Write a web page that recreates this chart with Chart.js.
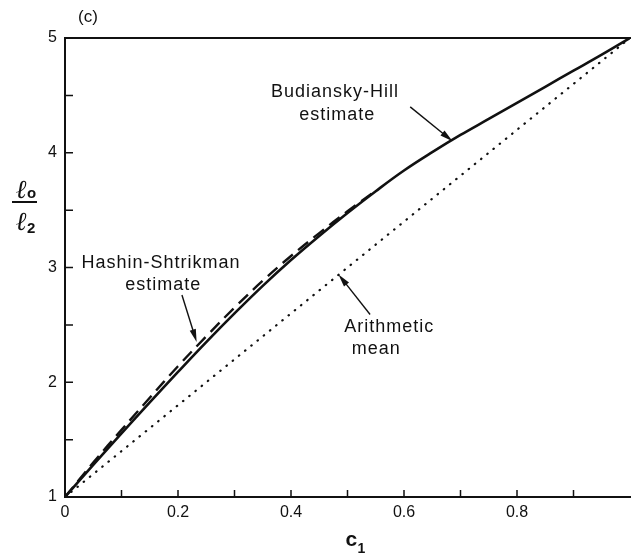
<!DOCTYPE html>
<html>
<head>
<meta charset="utf-8">
<script src="https://cdn.jsdelivr.net/npm/chart.js@4.4.1/dist/chart.umd.min.js"></script>
<style>
  html, body { margin: 0; padding: 0; background: #fff; }
  #wrap { width: 636px; height: 559px; }
</style>
</head>
<body>
<div id="wrap"><canvas id="chart"></canvas></div>
<script>
// ---- data ----
const c1Grid = [0, 0.05, 0.1, 0.15, 0.2, 0.25, 0.3, 0.35, 0.4, 0.45, 0.5, 0.55, 0.6, 0.65, 0.7, 0.75, 0.8, 0.85, 0.9, 0.95, 1.0];
const budianskyHill = [1, 1.28, 1.555, 1.825, 2.09, 2.35, 2.60, 2.84, 3.065, 3.275, 3.475, 3.665, 3.845, 4.005, 4.155, 4.295, 4.435, 4.575, 4.715, 4.855, 5.0];
const hsGrid = [0, 0.05, 0.1, 0.15, 0.2, 0.25, 0.3, 0.35, 0.4, 0.45, 0.5, 0.55];
const hashinShtrikman = [1, 1.30, 1.585, 1.865, 2.14, 2.40, 2.65, 2.885, 3.10, 3.30, 3.49, 3.67];
const arithGrid = [0, 1];
const arithmeticMean = [1, 5];
const xTickLabels = ['0', '0.2', '0.4', '0.6', '0.8'];
const yTickLabels = ['1', '2', '3', '4', '5'];

// annotation text + arrows (in data units)
const notes = [
  { lines: ['Budiansky-Hill', 'estimate'], at: [[0.478, 4.53], [0.482, 4.33]], arrow: [[0.611, 4.40], [0.686, 4.10]] },
  { lines: ['Hashin-Shtrikman', 'estimate'], at: [[0.170, 3.04], [0.174, 2.85]], arrow: [[0.207, 2.76], [0.233, 2.35]] },
  { lines: ['Arithmetic', 'mean'], at: [[0.574, 2.48], [0.551, 2.29]], arrow: [[0.540, 2.59], [0.484, 2.94]] },
];

const INK = '#111';
const pts = (xs, ys) => xs.map((v, i) => ({ x: v, y: ys[i] }));
const near = (v, step) => Math.abs(v / step - Math.round(v / step)) < 1e-6;

// frame (top/left/bottom), inward tick marks, titles and annotations
const figurePlugin = {
  id: 'figure',
  afterDraw(chart) {
    const { ctx, chartArea: a, scales: { x, y } } = chart;
    ctx.save();
    ctx.strokeStyle = INK; ctx.fillStyle = INK;
    ctx.lineWidth = 2;
    ctx.beginPath();
    ctx.moveTo(a.right + 1, a.top); ctx.lineTo(a.left, a.top);
    ctx.lineTo(a.left, a.bottom); ctx.lineTo(a.right + 1, a.bottom);
    ctx.stroke();

    ctx.lineWidth = 1.5;
    ctx.beginPath();
    x.ticks.forEach(t => {
      if (t.value <= 0 || t.value >= 1) return;
      const px = x.getPixelForValue(t.value);
      ctx.moveTo(px, a.bottom); ctx.lineTo(px, a.bottom - 7);
    });
    y.ticks.forEach(t => {
      if (t.value <= 1) return;
      const py = y.getPixelForValue(t.value);
      ctx.moveTo(a.left, py); ctx.lineTo(a.left + 8, py);
    });
    ctx.stroke();

    // panel label
    ctx.font = "17px 'Liberation Sans', sans-serif";
    ctx.textAlign = 'center'; ctx.textBaseline = 'middle';
    ctx.fillText('(c)', 88, 17);

    // x title c1
    ctx.font = "bold 21px 'Liberation Sans', sans-serif";
    ctx.textAlign = 'left'; ctx.textBaseline = 'alphabetic';
    const cx = x.getPixelForValue(0.5);
    ctx.fillText('c', cx - 2, 546);
    ctx.font = "bold 14px 'Liberation Sans', sans-serif";
    ctx.fillText('1', cx + 10, 553);

    // y title l0 / l2
    ctx.font = "bold italic 26px 'DejaVu Serif', serif";
    ctx.fillText('\u2113', 16, 198);
    ctx.fillText('\u2113', 16, 230);
    ctx.font = "bold 15px 'Liberation Sans', sans-serif";
    ctx.fillText('o', 27, 198);
    ctx.fillText('2', 27, 233);
    ctx.lineWidth = 2;
    ctx.beginPath(); ctx.moveTo(12, 202); ctx.lineTo(37, 202); ctx.stroke();

    // annotations
    ctx.font = "18px 'Liberation Sans', sans-serif";
    ctx.letterSpacing = '1px';
    ctx.textAlign = 'center'; ctx.textBaseline = 'middle';
    notes.forEach(n => {
      n.lines.forEach((s, i) => ctx.fillText(s, x.getPixelForValue(n.at[i][0]), y.getPixelForValue(n.at[i][1])));
      const x0 = x.getPixelForValue(n.arrow[0][0]), y0 = y.getPixelForValue(n.arrow[0][1]);
      const x1 = x.getPixelForValue(n.arrow[1][0]), y1 = y.getPixelForValue(n.arrow[1][1]);
      const ang = Math.atan2(y1 - y0, x1 - x0);
      ctx.lineWidth = 1.4;
      ctx.beginPath(); ctx.moveTo(x0, y0); ctx.lineTo(x1 - 8 * Math.cos(ang), y1 - 8 * Math.sin(ang)); ctx.stroke();
      ctx.beginPath();
      ctx.moveTo(x1, y1);
      ctx.lineTo(x1 - 13 * Math.cos(ang) + 3.2 * Math.sin(ang), y1 - 13 * Math.sin(ang) - 3.2 * Math.cos(ang));
      ctx.lineTo(x1 - 13 * Math.cos(ang) - 3.2 * Math.sin(ang), y1 - 13 * Math.sin(ang) + 3.2 * Math.cos(ang));
      ctx.closePath(); ctx.fill();
    });
    ctx.restore();
  },
};

const tickFont = { family: "'Liberation Sans', sans-serif", size: 16 };

new Chart(document.getElementById('chart'), {
  type: 'line',
  data: {
    datasets: [
      { label: 'Budiansky-Hill estimate', data: pts(c1Grid, budianskyHill),
        borderColor: INK, borderWidth: 2.6, tension: 0.4, pointRadius: 0 },
      { label: 'Hashin-Shtrikman estimate', data: pts(hsGrid, hashinShtrikman),
        borderColor: INK, borderWidth: 2.4, borderDash: [13, 7], tension: 0.4, pointRadius: 0 },
      { label: 'Arithmetic mean', data: pts(arithGrid, arithmeticMean),
        borderColor: INK, borderWidth: 2.2, borderDash: [0.5, 7.5], borderCapStyle: 'round', pointRadius: 0 },
    ],
  },
  options: {
    responsive: true, maintainAspectRatio: false, animation: false,
    layout: { padding: { top: 38, right: 1, left: 0, bottom: 0 } },
    scales: {
      x: {
        type: 'linear', min: 0, max: 1,
        grid: { display: false, drawTicks: false }, border: { display: false },
        ticks: {
          stepSize: 0.1, autoSkip: false, maxRotation: 0, padding: 6, color: INK, font: tickFont,
          callback: v => (near(v, 0.2) && v < 0.99) ? xTickLabels[Math.round(v / 0.2)] : '',
        },
        afterFit(s) { s.height = 62; },
      },
      y: {
        type: 'linear', min: 1, max: 5,
        grid: { display: false, drawTicks: false }, border: { display: false },
        ticks: {
          stepSize: 0.5, autoSkip: false, padding: 8, color: INK, font: tickFont,
          callback: v => near(v, 1) ? yTickLabels[Math.round(v) - 1] : '',
        },
        afterFit(s) { s.width = 65; },
      },
    },
    plugins: { legend: { display: false }, tooltip: { enabled: false } },
  },
  plugins: [figurePlugin],
});
</script>
</body>
</html>
